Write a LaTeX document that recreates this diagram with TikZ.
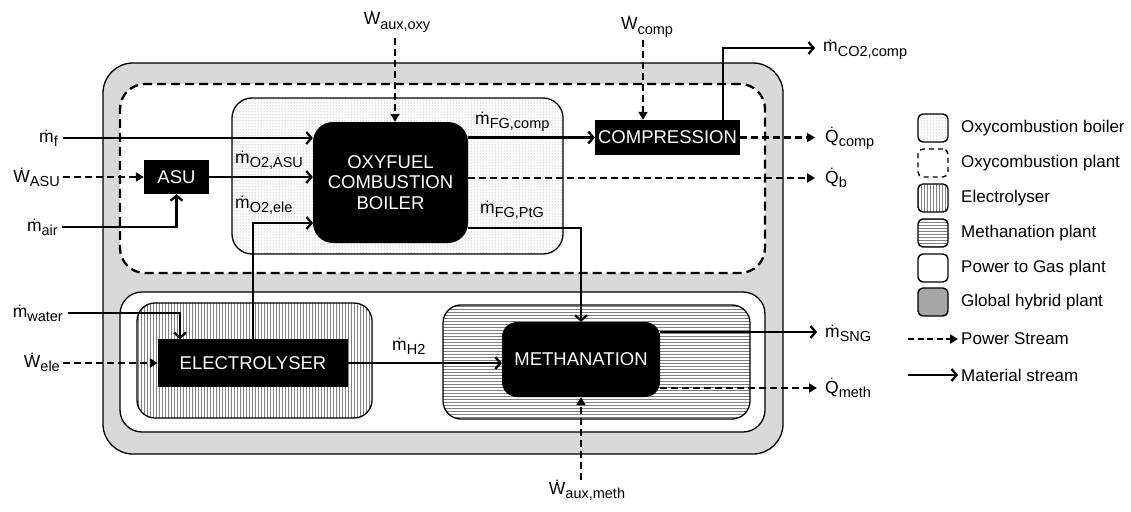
\documentclass[tikz,border=0pt]{standalone}
\usepackage{fontspec}
\setmainfont{Liberation Sans}
\usetikzlibrary{arrows.meta,patterns,calc}

% dot accent for flow rates (m-dot, W-dot, Q-dot)
\newcommand\dotacc[1]{{\setbox0=\hbox{#1}\rlap{\hbox to\wd0{\hss\raisebox{\dimexpr\ht0+0.8pt\relax}{\fontsize{13}{13}\selectfont.}\hss}}\box0}}
\newcommand\sbs[1]{\raisebox{-4.5pt}{\fontsize{14.5}{15}\selectfont#1}}
\newcommand\flow[2]{\dotacc{#1}\sbs{#2}}

\begin{document}
\begin{tikzpicture}[x=1pt,y=-1pt,
  lbl/.style={font=\fontsize{17.5}{20}\selectfont, inner sep=0pt},
  blk/.style={fill=black, text=white, font=\fontsize{18.5}{20.5}\selectfont, align=center, inner sep=0pt},
  zone/.style={draw, line width=1.3pt, inner sep=0pt},
  mat/.style={line width=2.3pt, -{Straight Barb[length=5pt,width=12pt]}},
  pow/.style={line width=2.3pt, dash pattern=on 7pt off 4pt, -{Triangle[length=8pt,width=9pt]}},
  lgbox/.style={draw, line width=1.4pt, rounded corners=5pt, minimum width=30pt, minimum height=28pt, inner sep=0pt},
  lgtxt/.style={font=\fontsize{17}{20}\selectfont, anchor=west, inner sep=0pt}]

\fill[white] (0,0) rectangle (1131,511);
\useasboundingbox (0,0) rectangle (1131,511);

% plant boundaries
\node[zone, fill=gray!30, rounded corners=30pt, minimum width=680pt, minimum height=391pt] (glob) at (443,258.5) {};
\node[draw, line width=2.3pt, dash pattern=on 9pt off 5pt, fill=white, rounded corners=25pt,
      minimum width=645pt, minimum height=189pt, inner sep=0pt] (oxyplant) at (442.5,178.5) {};
\node[zone, fill=white, rounded corners=22pt, minimum width=645pt, minimum height=140pt] (ptg) at (442.5,362) {};
\node[zone, pattern=vertical lines, pattern color=gray, rounded corners=18pt,
      minimum width=235pt, minimum height=115pt] (eleczone) at (254.5,360.5) {};
\node[zone, pattern=horizontal lines, pattern color=gray, rounded corners=18pt,
      minimum width=307pt, minimum height=114pt] (methzone) at (596.5,362) {};
\node[zone, pattern=dots, pattern color=gray, rounded corners=20pt,
      minimum width=331pt, minimum height=156pt] (boilzone) at (397.5,176) {};

% process units
\node[blk, rounded corners=20pt, minimum width=155pt, minimum height=121pt] (boiler) at (390.5,182.5) {OXYFUEL\\COMBUSTION\\BOILER};
\node[blk, minimum width=145pt, minimum height=35pt] (comp) at (667.5,137.5) {COMPRESSION};
\node[blk, minimum width=65pt, minimum height=34pt] (asu) at (176.5,177) {ASU};
\node[blk, minimum width=190pt, minimum height=48pt] (elec) at (253,363) {ELECTROLYSER};
\node[blk, rounded corners=15pt, minimum width=158pt, minimum height=75pt] (meth) at (581,359.5) {METHANATION};

% stream end points
\coordinate (mfS) at (63,138);
\coordinate (wasuS) at (63,177);
\coordinate (mairS) at (62,227);
\coordinate (mwatS) at (68,313);
\coordinate (weleS) at (63,363);
\coordinate (wauxoS) at (395,38);
\coordinate (wcompS) at (643,40);
\coordinate (o2eIn) at (313,223);
\coordinate (qbS) at (468,178);
\coordinate (qbE) at (815,178);
\coordinate (ptgS) at (468,228);
\coordinate (co2S) at (723,120);
\coordinate (co2E) at (815,48);
\coordinate (qcompE) at (815,137.5);
\coordinate (sngS) at (660,332);
\coordinate (sngE) at (817,332);
\coordinate (qmethS) at (660,388);
\coordinate (qmethE) at (817,388);
\coordinate (wauxmS) at (581,480);
\coordinate (waterIn) at (180,339);

% streams
\draw[mat] (mfS) -- (mfS -| boiler.west);
\draw[pow] (wasuS) -- (asu.west);
\draw[mat] (mairS) -| (asu.south);
\draw[mat] (asu.east) -- (asu.east -| boiler.west);
\draw[mat] (elec.north) |- (o2eIn);
\draw[pow] (wauxoS) -- (wauxoS |- boiler.north);
\draw[mat] (comp.west -| boiler.east) -- (comp.west);
\draw[pow] (qbS) -- (qbE);
\draw[mat] (ptgS) -| (meth.north);
\draw[pow] (wcompS) -- (wcompS |- comp.north);
\draw[mat] (co2S) |- (co2E);
\draw[pow] (comp.east) -- (qcompE);
\draw[mat] (mwatS) -| (waterIn);
\draw[pow] (weleS) -- (elec.west);
\draw[mat] (elec.east) -- (elec.east -| meth.west);
\draw[mat] (sngS) -- (sngE);
\draw[pow] (qmethS) -- (qmethE);
\draw[pow] (wauxmS) -- (meth.south);

% stream labels
\node[lbl, anchor=base east] (lmf) at (58,142) {\flow{m}{f}};
\node[lbl, anchor=base east] (lwasu) at (60,182) {\flow{W}{ASU}};
\node[lbl, anchor=base east] (lmair) at (58,231) {\flow{m}{air}};
\node[lbl, anchor=base east] (lmwat) at (63,317) {\flow{m}{water}};
\node[lbl, anchor=base east] (lwele) at (60,367) {\flow{W}{ele}};
\node[lbl, anchor=base west] (lo2a) at (235,163) {\flow{m}{O2,ASU}};
\node[lbl, anchor=base west] (lo2e) at (235,208) {\flow{m}{O2,ele}};
\node[lbl, anchor=base west] (lfgc) at (475,124) {\flow{m}{FG,comp}};
\node[lbl, anchor=base west] (lfgp) at (480,213) {\flow{m}{FG,PtG}};
\node[lbl, anchor=base west] (lh2) at (392,350) {\flow{m}{H2}};
\node[lbl, anchor=base] (lwauxo) at (397,25) {\flow{W}{aux,oxy}};
\node[lbl, anchor=base] (lwcomp) at (647,30) {\flow{W}{comp}};
\node[lbl, anchor=base] (lwauxm) at (587,494) {\flow{W}{aux,meth}};
\node[lbl, anchor=base west] (lco2) at (823,52) {\flow{m}{CO2,comp}};
\node[lbl, anchor=base west] (lqcomp) at (825,142) {\flow{Q}{comp}};
\node[lbl, anchor=base west] (lqb) at (825,183) {\flow{Q}{b}};
\node[lbl, anchor=base west] (lsng) at (825,337) {\flow{m}{SNG}};
\node[lbl, anchor=base west] (lqmeth) at (825,393) {\flow{Q}{meth}};

% legend
\node[lgbox, preaction={fill=white}, pattern=dots, pattern color=gray] (lg1) at (933,128) {};
\node[lgtxt] (lt1) at (961,128) {Oxycombustion boiler};
\node[lgbox, dash pattern=on 5pt off 4pt] (lg2) at (933,163) {};
\node[lgtxt] (lt2) at (961,163) {Oxycombustion plant};
\node[lgbox, preaction={fill=white}, pattern=vertical lines, pattern color=gray] (lg3) at (933,198) {};
\node[lgtxt] (lt3) at (961,198) {Electrolyser};
\node[lgbox, preaction={fill=white}, pattern=horizontal lines, pattern color=gray] (lg4) at (933,233) {};
\node[lgtxt] (lt4) at (961,233) {Methanation plant};
\node[lgbox, fill=white] (lg5) at (933,268) {};
\node[lgtxt] (lt5) at (961,268) {Power to Gas plant};
\node[lgbox, fill=gray!70] (lg6) at (933,302) {};
\node[lgtxt] (lt6) at (961,302) {Global hybrid plant};
\coordinate (lp7) at (908,339);
\node[lgtxt] (lt7) at (961,339) {Power Stream};
\draw[pow, dash pattern=on 6pt off 3.5pt] (lp7) -- ([xshift=-3pt]lt7.west);
\coordinate (lp8) at (908,375);
\node[lgtxt] (lt8) at (961,375) {Material stream};
\draw[mat] (lp8) -- ([xshift=-3pt]lt8.west);

\end{tikzpicture}
\end{document}
